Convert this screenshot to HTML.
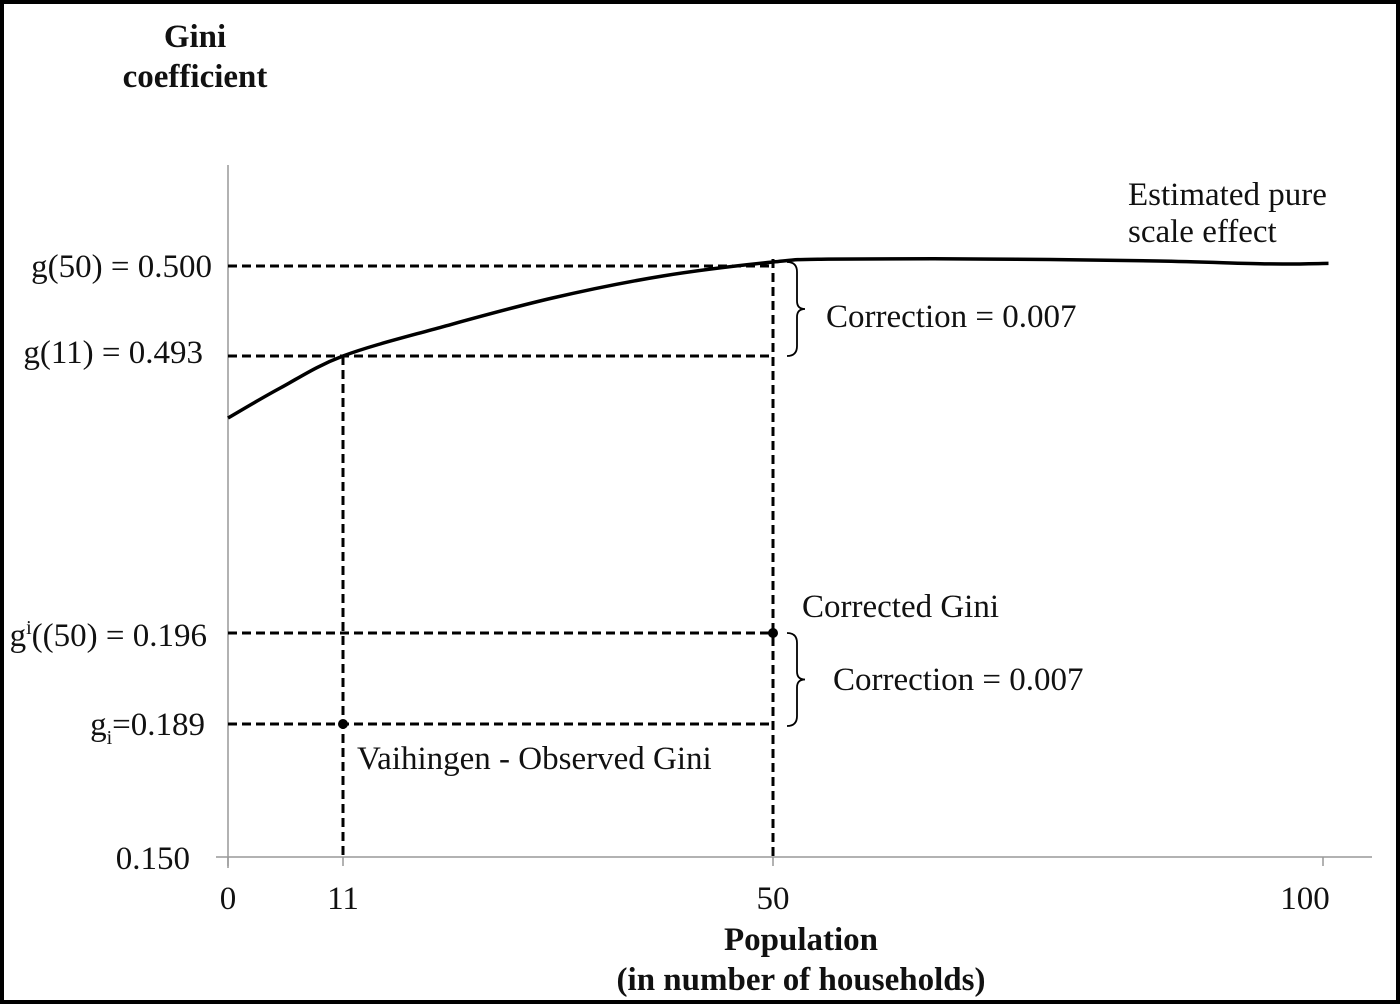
<!DOCTYPE html>
<html><head><meta charset="utf-8"><style>
html,body{margin:0;padding:0;background:#fff}
svg{display:block}
text{font-family:"Liberation Serif",serif;fill:#111}
</style></head><body>
<svg id="c" width="1400" height="1004" viewBox="0 0 1400 1004">
<rect x="2" y="2" width="1396" height="1000" fill="#fff" stroke="#000" stroke-width="4"/>
<g id="g"></g>
</svg>
<script>
// data
const xTickValues = [0, 11, 50, 100];
const xTickLabels = ["0", "11", "50", "100"];
const yBreakValues = [0.150, 0.189, 0.196, 0.493, 0.500];
const curveX = [0, 5, 11, 20, 30, 40, 50, 55, 70, 85, 95, 100.5];
const curveY = [0.48818, 0.49051, 0.493, 0.49526, 0.49751, 0.49922, 0.50031, 0.50054, 0.50054, 0.50039, 0.50016, 0.50020];
const observedX = 11, observedG = 0.189;
const correctedX = 50, correctedG = 0.196;
const gSmall = 0.493, gLarge = 0.500;

// axis functions (piecewise, schematic broken axis)
const xPix = [228, 343, 773, 1323];
const yPix = [857, 724, 633, 356, 266];
function pw(v, d, r){
  let i = 0;
  if (v <= d[0]) i = 0; else if (v >= d[d.length-1]) i = d.length-2;
  else { while (v > d[i+1]) i++; }
  return r[i] + (v - d[i]) * (r[i+1]-r[i]) / (d[i+1]-d[i]);
}
const X = v => pw(v, xTickValues, xPix);
const Y = v => v >= 0.4
  ? yPix[3] + (v - yBreakValues[3]) * (yPix[4]-yPix[3]) / (yBreakValues[4]-yBreakValues[3])
  : pw(v, yBreakValues.slice(0,3), yPix.slice(0,3));

const NS = "http://www.w3.org/2000/svg";
const G = document.getElementById('g');
function mk(tag, attrs, name, txt){
  const e = document.createElementNS(NS, tag);
  for (const k in attrs) e.setAttribute(k, attrs[k]);
  
  
  if (txt !== undefined) e.textContent = txt;
  G.appendChild(e); return e;
}
const dash = {stroke:"#000","stroke-width":3,"stroke-dasharray":"9 5",fill:"none"};
const FS = 33;

// axes
mk('line',{x1:X(0),y1:165,x2:X(0),y2:868,stroke:"#999","stroke-width":1.5},'y-axis');
mk('line',{x1:216,y1:857,x2:1372,y2:857,stroke:"#999","stroke-width":1.5},'x-axis');
xTickValues.forEach((v,i)=>{
  mk('line',{x1:X(v),y1:857,x2:X(v),y2:866,stroke:"#999","stroke-width":1.5},'x-tick');
  mk('text',{x:X(v)+(v===100?-18:0),y:909,"font-size":FS,"text-anchor":"middle"},'x-tick-label',xTickLabels[i]);
});

// reference dashed lines
mk('line',Object.assign({x1:X(0),y1:Y(gLarge),x2:X(50),y2:Y(gLarge)},dash),'g50-guide');
mk('line',Object.assign({x1:X(0),y1:Y(gSmall),x2:X(50),y2:Y(gSmall)},dash),'g11-guide');
mk('line',Object.assign({x1:X(0),y1:Y(correctedG),x2:X(correctedX),y2:Y(correctedG)},dash),'corrected-guide');
mk('line',Object.assign({x1:X(0),y1:Y(observedG),x2:X(correctedX),y2:Y(observedG)},dash),'observed-guide');
mk('line',Object.assign({x1:X(observedX),y1:Y(gSmall),x2:X(observedX),y2:857},dash),'x11-guide');
mk('line',Object.assign({x1:X(correctedX),y1:Y(gLarge)-7,x2:X(correctedX),y2:857},dash),'x50-guide');

// curve (Catmull-Rom smoothing through data points)
const P = curveX.map((v,i)=>[X(v), Y(curveY[i])]);
let d = 'M'+P[0][0].toFixed(1)+','+P[0][1].toFixed(1);
for (let i=0;i<P.length-1;i++){
  const p0=P[Math.max(0,i-1)], p1=P[i], p2=P[i+1], p3=P[Math.min(P.length-1,i+2)];
  const c1=[p1[0]+(p2[0]-p0[0])/6, p1[1]+(p2[1]-p0[1])/6];
  const c2=[p2[0]-(p3[0]-p1[0])/6, p2[1]-(p3[1]-p1[1])/6];
  d += ` C${c1[0].toFixed(1)},${c1[1].toFixed(1)} ${c2[0].toFixed(1)},${c2[1].toFixed(1)} ${p2[0].toFixed(1)},${p2[1].toFixed(1)}`;
}
mk('path',{d:d,fill:"none",stroke:"#000","stroke-width":3.5,"stroke-linejoin":"round"},'pure-scale-effect-curve');

// points
mk('circle',{cx:X(observedX),cy:Y(observedG),r:5,fill:"#000"},'observed-gini-point');
mk('circle',{cx:X(correctedX),cy:Y(correctedG),r:5,fill:"#000"},'corrected-gini-point');

// braces
function brace(y1,y2,name){
  const x=787, m=(y1+y2)/2;
  mk('path',{d:`M${x},${y1} Q${x+10},${y1} ${x+10},${y1+10} L${x+10},${m-8} Q${x+10},${m} ${x+18},${m} Q${x+10},${m} ${x+10},${m+8} L${x+10},${y2-10} Q${x+10},${y2} ${x},${y2}`,fill:"none",stroke:"#000","stroke-width":1.8},name);
}
brace(Y(gLarge)-4,Y(gSmall),'upper-brace');
brace(Y(correctedG),Y(observedG)+2,'lower-brace');

// y labels
mk('text',{x:212,y:277,"font-size":FS,"text-anchor":"end"},'y-label-g50','g(50) = 0.500');
mk('text',{x:203,y:363,"font-size":FS,"text-anchor":"end"},'y-label-g11','g(11) = 0.493');
const t1 = mk('text',{x:207,y:646,"font-size":FS,"text-anchor":"end"},'y-label-corrected');
t1.innerHTML='g<tspan dy="-12" font-size="20">i</tspan><tspan dy="12">((50) = 0.196</tspan>';
const t2 = mk('text',{x:205,y:735,"font-size":FS,"text-anchor":"end"},'y-label-observed');
t2.innerHTML='g<tspan dy="9" font-size="20">i</tspan><tspan dy="-9">=0.189</tspan>';
mk('text',{x:190,y:869,"font-size":FS,"text-anchor":"end"},'y-label-min','0.150');

// annotations
mk('text',{x:826,y:327,"font-size":FS},'correction-label-upper','Correction = 0.007');
mk('text',{x:833,y:690,"font-size":FS},'correction-label-lower','Correction = 0.007');
mk('text',{x:802,y:617,"font-size":FS},'corrected-gini-label','Corrected Gini');
mk('text',{x:357,y:769,"font-size":FS},'observed-gini-label','Vaihingen - Observed Gini');
mk('text',{x:1128,y:205,"font-size":FS},'curve-label-line1','Estimated pure');
mk('text',{x:1128,y:242,"font-size":FS},'curve-label-line2','scale effect');

// titles
mk('text',{x:195,y:47,"font-size":FS,"font-weight":"bold","text-anchor":"middle"},'y-axis-title-line1','Gini');
mk('text',{x:195,y:87,"font-size":FS,"font-weight":"bold","text-anchor":"middle"},'y-axis-title-line2','coefficient');
mk('text',{x:801,y:950,"font-size":FS,"font-weight":"bold","text-anchor":"middle"},'x-axis-title-line1','Population');
mk('text',{x:801,y:990,"font-size":FS,"font-weight":"bold","text-anchor":"middle"},'x-axis-title-line2','(in number of households)');
</script>
</body></html>
